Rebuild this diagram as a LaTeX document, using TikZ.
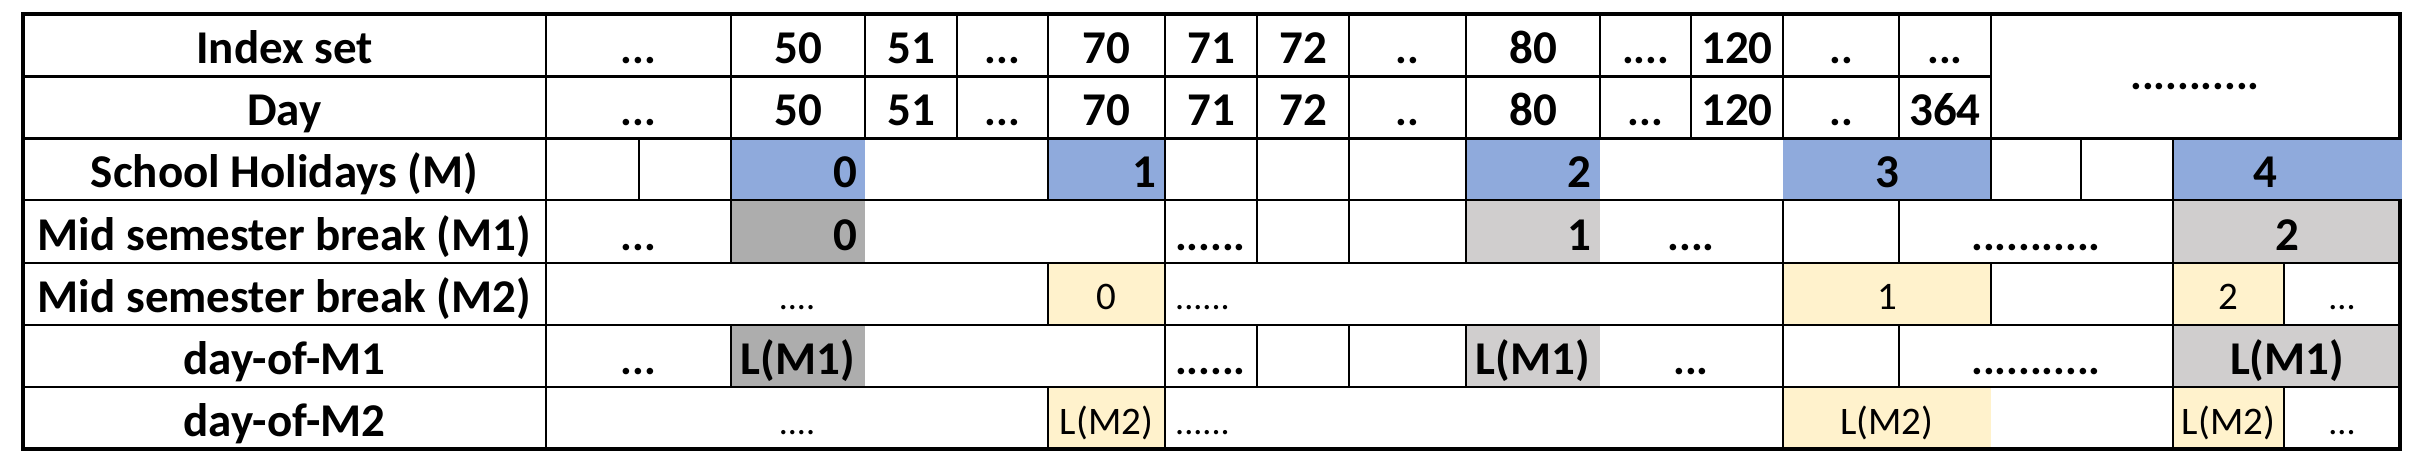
\documentclass[tikz,border=0pt]{standalone}
\usepackage{fontspec}
\setmainfont{Carlito}
\newcommand{\fb}{\fontsize{47}{52}\selectfont\bfseries}
\newcommand{\fdb}{\fontsize{44}{48}\selectfont\bfseries}
\newcommand{\fr}{\fontsize{39}{44}\selectfont}
\newcommand{\fdr}{\fontsize{36}{40}\selectfont}
\definecolor{hblue}{HTML}{8FAADC}
\definecolor{dgray}{HTML}{ADADAD}
\definecolor{lgray}{HTML}{D0CECE}
\definecolor{lyel}{HTML}{FFF2CC}
\tikzset{
  hl/.style={line width=2.2pt},
  vl/.style={line width=1.8pt},
  outer/.style={line width=3.5pt},
  bt/.style={anchor=base, inner sep=0pt, font=\fb},
  btr/.style={anchor=base east, inner sep=0pt, font=\fb},
  bd/.style={anchor=base, inner sep=0pt, font=\fdb},
  bdl/.style={anchor=base west, inner sep=0pt, font=\fdb},
  rt/.style={anchor=base, inner sep=0pt, font=\fr},
  rd/.style={anchor=base, inner sep=0pt, font=\fdr},
  rdl/.style={anchor=base west, inner sep=0pt, font=\fdr},
}
\begin{document}
\begin{tikzpicture}[x=1pt,y=-1pt]
\useasboundingbox (0,0) rectangle (2422,470);
% fills
\fill[hblue] (731,138) rectangle (865,200);
\fill[hblue] (1048,138) rectangle (1165,200);
\fill[hblue] (1466,138) rectangle (1600,200);
\fill[hblue] (1783,138) rectangle (1991,200);
\fill[dgray] (731,200) rectangle (865,263);
\fill[dgray] (731,325) rectangle (865,387);
\fill[lgray] (1466,200) rectangle (1600,263);
\fill[lgray] (2173,200) rectangle (2400,263);
\fill[lgray] (1466,325) rectangle (1600,387);
\fill[lgray] (2173,325) rectangle (2400,387);
\fill[lyel] (1048,263) rectangle (1165,325);
\fill[lyel] (1783,263) rectangle (1991,325);
\fill[lyel] (2173,263) rectangle (2284,325);
\fill[lyel] (1048,387) rectangle (1165,449);
\fill[lyel] (1783,387) rectangle (1991,449);
\fill[lyel] (2173,387) rectangle (2284,449);
% horizontal lines
\draw[hl] (23,76.5) -- (1991,76.5);
\foreach \yy in {138.5,200,263,325,387} \draw[hl] (23,\yy) -- (2400,\yy);
% vertical lines
\draw[vl] (546,14) -- (546,449);
\draw[vl] (639,138) -- (639,200);
\draw[vl] (731,14) -- (731,263) (731,325) -- (731,387);
\draw[vl] (865,14) -- (865,138);
\draw[vl] (957,14) -- (957,138);
\draw[vl] (1048,14) -- (1048,200) (1048,263) -- (1048,325) (1048,387) -- (1048,449);
\draw[vl] (1165,14) -- (1165,449);
\foreach \xx in {1257,1349,1466} \draw[vl] (\xx,14) -- (\xx,263) (\xx,325) -- (\xx,387);
\draw[vl] (1600,14) -- (1600,138);
\draw[vl] (1691,14) -- (1691,138);
\draw[vl] (1783,14) -- (1783,138) (1783,200) -- (1783,449);
\draw[vl] (1899,14) -- (1899,138) (1899,200) -- (1899,263) (1899,325) -- (1899,387);
\draw[vl] (1991,14) -- (1991,200) (1991,263) -- (1991,325);
\draw[vl] (2081,138) -- (2081,200);
\draw[vl] (2173,138) -- (2173,449);
\draw[vl] (2284,263) -- (2284,325) (2284,387) -- (2284,449);
% outer border
\draw[outer] (23,14) rectangle (2400,449);
\fill[hblue] (2173.9,139.6) rectangle (2402,198.9);
% row 1
\node[bt] (l1) at (284.5,64) {Index set};
\node[bd] (a1) at (638.5,64) {...};
\node[bt] (b1) at (798,64) {50};
\node[bt] (c1) at (911,64) {51};
\node[bd] (d1) at (1002.5,64) {...};
\node[bt] (e1) at (1106.5,64) {70};
\node[bt] (f1) at (1211,64) {71};
\node[bt] (g1) at (1303,64) {72};
\node[bd] (h1) at (1407.5,64) {..};
\node[bt] (i1) at (1533,64) {80};
\node[bd] (j1) at (1645.5,64) {....};
\node[bt] (k1) at (1737,64) {120};
\node[bd] (m1) at (1841,64) {..};
\node[bd] (n1) at (1945,64) {...};
\node[bd] (merged) at (2195,90) {...........};
% row 2
\node[bt] (l2) at (284.5,125.5) {Day};
\node[bd] (a2) at (638.5,125.5) {...};
\node[bt] (b2) at (798,125.5) {50};
\node[bt] (c2) at (911,125.5) {51};
\node[bd] (d2) at (1002.5,125.5) {...};
\node[bt] (e2) at (1106.5,125.5) {70};
\node[bt] (f2) at (1211,125.5) {71};
\node[bt] (g2) at (1303,125.5) {72};
\node[bd] (h2) at (1407.5,125.5) {..};
\node[bt] (i2) at (1533,125.5) {80};
\node[bd] (j2) at (1645.5,125.5) {...};
\node[bt] (k2) at (1737,125.5) {120};
\node[bd] (m2) at (1841,125.5) {..};
\node[bt] (n2) at (1945,125.5) {364};
% row 3
\node[bt] (l3) at (284.5,187.5) {School Holidays (M)};
\node[btr] (h0) at (858,187.5) {0};
\node[btr] (hh1) at (1157,187.5) {1};
\node[btr] (hh2) at (1592,187.5) {2};
\node[bt] (h3) at (1887,187.5) {3};
\node[bt] (h4) at (2265,187.5) {4};
% row 4
\node[bt] (l4) at (284.5,250.5) {Mid semester break (M1)};
\node[bd] (a4) at (638.5,250.5) {...};
\node[btr] (p0) at (858,250.5) {0};
\node[bdl] (d4) at (1175,250.5) {......};
\node[btr] (p1) at (1592,250.5) {1};
\node[bd] (j4) at (1691,250.5) {....};
\node[bd] (m4) at (2036,250.5) {...........};
\node[bt] (p2) at (2287,250.5) {2};
% row 5
\node[bt] (l5) at (284.5,312.5) {Mid semester break (M2)};
\node[rd] (a5) at (797,309) {....};
\node[rt] (q0) at (1106.5,309) {0};
\node[rdl] (d5) at (1175,309) {......};
\node[rt] (q1) at (1887,309) {1};
\node[rt] (q2) at (2228.5,309) {2};
\node[rd] (z5) at (2342,309) {...};
% row 6
\node[bt] (l6) at (284.5,374.5) {day-of-M1};
\node[bd] (a6) at (638.5,374.5) {...};
\node[bt] (r0) at (798,374.5) {L(M1)};
\node[bdl] (d6) at (1175,374.5) {......};
\node[bt] (r1) at (1533,374.5) {L(M1)};
\node[bd] (j6) at (1691,374.5) {...};
\node[bd] (m6) at (2036,374.5) {...........};
\node[bt] (r2) at (2287,374.5) {L(M1)};
% row 7
\node[bt] (l7) at (284.5,436.5) {day-of-M2};
\node[rd] (a7) at (797,434) {....};
\node[rt] (s0) at (1106.5,434) {L(M2)};
\node[rdl] (d7) at (1175,434) {......};
\node[rt] (s1) at (1887,434) {L(M2)};
\node[rt] (s2) at (2228.5,434) {L(M2)};
\node[rd] (z7) at (2342,434) {...};
\end{tikzpicture}
\end{document}
